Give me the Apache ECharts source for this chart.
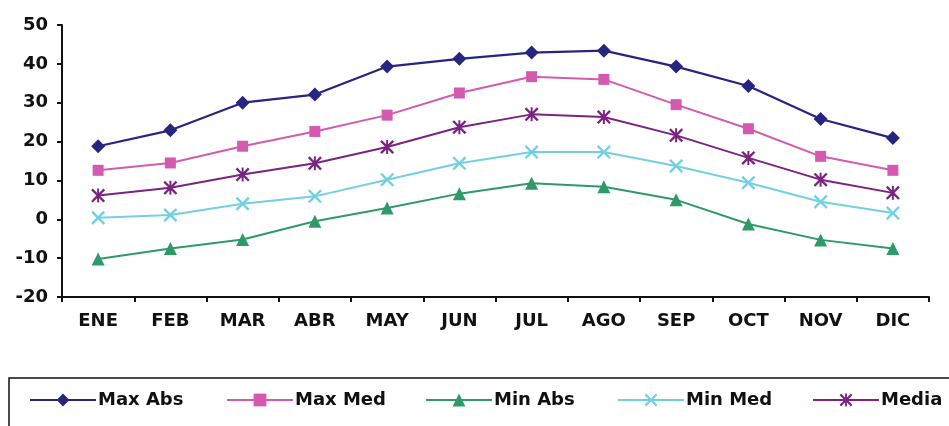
<!DOCTYPE html>
<html>
<head>
<meta charset="utf-8">
<script src="https://cdn.jsdelivr.net/npm/echarts@6/dist/echarts.min.js"></script>
<style>html,body{margin:0;padding:0;background:#fff}#c{width:949px;height:426px}</style>
</head>
<body>
<div id="c"></div>
<script>
const months = ['ENE','FEB','MAR','ABR','MAY','JUN','JUL','AGO','SEP','OCT','NOV','DIC'];
const maxAbs = [18.8, 22.9, 30, 32.1, 39.3, 41.3, 42.9, 43.4, 39.3, 34.3, 25.8, 20.9];
const maxMed = [12.6, 14.5, 18.8, 22.6, 26.8, 32.5, 36.7, 36, 29.5, 23.3, 16.2, 12.6];
const minAbs = [-10.2, -7.5, -5.2, -0.5, 2.9, 6.6, 9.3, 8.4, 5, -1.2, -5.3, -7.5];
const minMed = [0.4, 1.1, 4, 5.9, 10.2, 14.4, 17.3, 17.3, 13.7, 9.4, 4.5, 1.6];
const media = [6.1, 8.1, 11.5, 14.4, 18.6, 23.7, 27, 26.3, 21.6, 15.8, 10.2, 6.8];
const yTicks = {min: -20, max: 50, step: 10};

const X_PATH = 'path://M1.2,0 L5,3.8 L8.8,0 L10,1.2 L6.2,5 L10,8.8 L8.8,10 L5,6.2 L1.2,10 L0,8.8 L3.8,5 L0,1.2 Z';
const AST_PATH = 'path://M1.2,0 L5,3.8 L8.8,0 L10,1.2 L6.2,5 L10,8.8 L8.8,10 L5,6.2 L1.2,10 L0,8.8 L3.8,5 L0,1.2 Z M4.3,0 L5.7,0 L5.7,10 L4.3,10 Z';

const font = 'DejaVu Sans';
function ser(name, data, color, symbol, size, lw) {
  return {name, type: 'line', data, symbol, symbolSize: size, showAllSymbol: true,
    lineStyle: {color, width: lw}, itemStyle: {color, borderWidth: 0}, z: 3};
}
const series = [
  ser('Max Abs', maxAbs, '#262680', 'diamond', 14, 2.2),
  ser('Max Med', maxMed, '#D45AB0', 'rect', 11, 2),
  ser('Min Abs', minAbs, '#2E9A6A', 'triangle', 13, 2),
  ser('Min Med', minMed, '#72D0E2', X_PATH, 14, 2),
  ser('Media', media, '#7A2480', AST_PATH, 14, 2)
];
const legLefts = [29, 226, 425, 617, 812];
const legend = series.map((s, i) => ({
  data: [s.name], left: legLefts[i], top: 391, itemWidth: 66, itemHeight: 16, itemGap: 0,
  padding: 0, textStyle: {fontFamily: font, fontWeight: 'bold', fontSize: 18, color: '#111', padding: [0,0,0,-3]}
}));

const chart = echarts.init(document.getElementById('c'));
chart.setOption({
  animation: false,
  backgroundColor: '#fff',
  grid: {left: 62, right: 20, top: 25, bottom: 129},
  legend,
  xAxis: {type: 'category', data: months, boundaryGap: true,
    axisLine: {onZero: false, lineStyle: {color: '#111', width: 2}},
    axisTick: {show: true, interval: 0, length: 5, lineStyle: {color: '#111', width: 2}},
    axisLabel: {fontFamily: font, fontWeight: 'bold', fontSize: 18, color: '#111', margin: 15, interval: 0}},
  yAxis: {type: 'value', min: yTicks.min, max: yTicks.max, interval: yTicks.step,
    axisLine: {show: true, lineStyle: {color: '#111', width: 2}},
    axisTick: {show: true, length: 5, lineStyle: {color: '#111', width: 2}},
    splitLine: {show: false},
    axisLabel: {fontFamily: font, fontWeight: 'bold', fontSize: 18, color: '#111', margin: 14}},
  graphic: [{type: 'rect', shape: {x: 9, y: 378, width: 1000, height: 100},
    style: {fill: 'none', stroke: '#111', lineWidth: 1.5}, z: -1}],
  series
});
</script>
</body>
</html>
